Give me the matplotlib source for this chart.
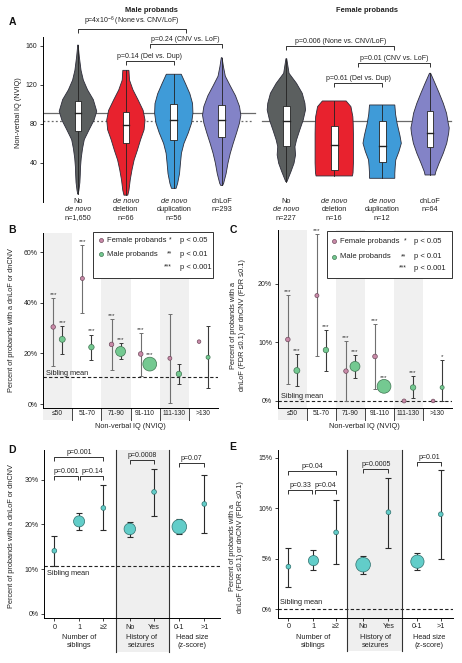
import numpy as np
import matplotlib
matplotlib.use("Agg")
import matplotlib.pyplot as plt
import matplotlib.transforms as mtrans
from matplotlib.patches import Rectangle

plt.rcParams['font.family'] = ['Liberation Sans', 'DejaVu Sans']
plt.rcParams['mathtext.default'] = 'regular'
plt.rcParams['axes.linewidth'] = 0.7
plt.rcParams['xtick.major.width'] = 0.6
plt.rcParams['ytick.major.width'] = 0.6

# ======================= DATA =======================
# ---- Panel A: NVIQ distributions ----
a_lines = [["No", "de novo"], ["de novo", "deletion"], ["de novo", "duplication"], ["dnLoF"]]
a_italic = [[False, True], [True, False], [True, False], [False]]
a_male_n = ["n=1,650", "n=66", "n=56", "n=293"]
a_female_n = ["n=227", "n=16", "n=12", "n=64"]
male_mean_nviq = 91.0
female_mean_nviq = 83.5

# violin profiles: NVIQ levels and relative density
m_nodn_lv = [8, 12, 20, 28, 35, 45, 55, 64, 74, 84, 93, 105, 115, 125, 135, 149, 161]
m_nodn_d = [0.01, 0.05, 0.1, 0.12, 0.13, 0.17, 0.24, 0.33, 0.58, 0.84, 0.98, 0.8, 0.5, 0.28, 0.16, 0.07, 0.01]
m_del_lv = [7, 12, 23, 33, 43, 53, 64, 74, 84, 94, 105, 115, 125, 135]
m_del_d = [0.1, 0.16, 0.23, 0.32, 0.43, 0.6, 0.77, 0.95, 1.0, 0.9, 0.63, 0.37, 0.19, 0.16]
m_dup_lv = [14, 19, 29, 40, 50, 60, 71, 81, 91, 101, 111, 121, 131]
m_dup_d = [0.12, 0.2, 0.3, 0.35, 0.4, 0.53, 0.76, 0.93, 1.0, 0.98, 0.84, 0.62, 0.39]
m_lof_lv = [17, 19, 29, 40, 50, 60, 71, 81, 89, 98, 109, 119, 129, 139, 148]
m_lof_d = [0.05, 0.1, 0.23, 0.33, 0.45, 0.6, 0.78, 0.93, 1.0, 0.93, 0.72, 0.45, 0.19, 0.09, 0.02]

f_nodn_lv = [20.8, 31.1, 39.7, 48.2, 56.7, 63.6, 73.8, 84.1, 94.4, 101.2, 111.5, 121.7, 132, 147]
f_nodn_d = [0.03, 0.24, 0.4, 0.48, 0.45, 0.53, 0.7, 0.88, 1.0, 0.97, 0.83, 0.53, 0.14, 0.02]
f_del_lv = [26.7, 30, 40, 50, 60, 70, 80, 87.5, 97.8, 103.6]
f_del_d = [0.95, 0.98, 1.0, 1.0, 1.0, 1.0, 0.99, 0.97, 0.87, 0.62]
f_dup_lv = [24.3, 29.4, 36, 43.1, 52, 60.2, 68, 80.7, 90, 99.5]
f_dup_d = [0.66, 0.66, 0.68, 0.71, 0.88, 1.0, 0.93, 0.78, 0.7, 0.66]
f_lof_lv = [27.7, 31.1, 39.7, 50, 60.2, 70.4, 76, 80.7, 91, 101.2, 111.5, 121.7, 132]
f_lof_d = [0.26, 0.3, 0.47, 0.69, 0.87, 0.97, 1.0, 0.95, 0.86, 0.69, 0.48, 0.26, 0.03]

male_q1 = [73, 60, 64, 67]
male_med = [91, 79, 84, 84]
male_q3 = [104, 92, 101, 99]
female_q1 = [57.8, 32.8, 41.4, 56]
female_med = [83.4, 58.5, 57.4, 71]
female_q3 = [98.8, 78, 83.4, 93.3]

a_male_tests = ["p=4x10$^{-6}$ (None vs. CNV/LoF)", "p=0.24 (CNV vs. LoF)", "p=0.14 (Del vs. Dup)"]
a_female_tests = ["p=0.006 (None vs. CNV/LoF)", "p=0.01 (CNV vs. LoF)", "p=0.61 (Del vs. Dup)"]

# ---- Panels B & C: rate by NVIQ bin ----
nviq_bins = ["\u226450", "51-70", "71-90", "91-110", "111-130", ">130"]
nan = np.nan
b_female = [30.5, 49.7, 23.6, 19.8, 18.1, 24.7]
b_female_lo = [15.2, 35.9, 13.6, 11.1, 0.3, nan]
b_female_hi = [41.9, 62.9, 33.5, 28.0, 35.6, nan]
b_male = [25.6, 22.5, 20.8, 15.8, 11.9, 18.5]
b_male_lo = [19.9, 17.4, 17.9, 13.8, 7.8, 6.2]
b_male_hi = [30.9, 27.5, 24.2, 18.0, 15.7, 30.9]
b_female_sig = ["***", "***", "***", "***", "", ""]
b_male_sig = ["***", "***", "***", "***", "", ""]
b_sibling_mean = 10.6

c_female = [10.5, 18.0, 5.1, 7.6, 0.0, 0.0]
c_female_lo = [2.9, 7.6, 0.0, 2.1, nan, nan]
c_female_hi = [18.1, 28.5, 10.2, 13.1, nan, nan]
c_male = [5.2, 8.7, 5.9, 2.5, 2.3, 2.3]
c_male_lo = [2.5, 5.2, 3.9, 1.6, 0.5, 0.0]
c_male_hi = [8.0, 12.1, 7.8, 3.3, 4.2, 7.0]
c_female_sig = ["***", "***", "***", "***", "", ""]
c_male_sig = ["***", "***", "***", "***", "***", "*"]
c_sibling_mean = 0.0

bin_n_female = [110, 60, 110, 120, 55, 20]
bin_n_male = [250, 200, 640, 1020, 200, 65]

# ---- Panels D & E: rate by sibling count / seizures / head size ----
de_cats = ["0", "1", "\u22652", "No", "Yes", "0-1", ">1"]
de_groups = ["Number of\nsiblings", "History of\nseizures", "Head size\n(z-score)"]
d_rate = [14.1, 20.7, 23.7, 19.0, 27.3, 19.5, 24.6]
d_lo = [10.7, 18.8, 18.7, 17.2, 21.9, 17.8, 18.0]
d_hi = [17.4, 22.6, 28.8, 20.6, 32.5, 21.3, 31.2]
d_n = [250, 1700, 250, 1800, 250, 2500, 250]
d_sibling_mean = 10.6
e_rate = [4.2, 4.8, 7.6, 4.4, 9.6, 4.7, 9.4]
e_lo = [2.2, 3.85, 4.5, 3.5, 6.1, 3.85, 5.0]
e_hi = [6.1, 5.9, 10.8, 5.3, 13.0, 5.6, 13.8]
e_n = [250, 1500, 250, 2500, 250, 2200, 250]
e_sibling_mean = 0.0
d_tests = ["p=0.001", "p=0.001", "p=0.14", "p=0.0008", "p=0.07"]
e_tests = ["p=0.04", "p=0.33", "p=0.04", "p=0.0005", "p=0.01"]

# ======================= LAYOUT / STYLE =======================
W, H = 462, 663
fig = plt.figure(figsize=(W / 100, H / 100), dpi=100)

def px_axes(l, t, r, b):
    return fig.add_axes([l / W, 1 - b / H, (r - l) / W, (b - t) / H])

TXT = '#222222'
LFS = 5.3   # label font size
TFS = 5.0   # tick font size
vcolors = ["#5b5f5f", "#e8222e", "#3f9bd8", "#8383c7"]

def bracket(ax, x1, x2, y, drop, label, fs=5.0, off=0.8):
    ax.plot([x1, x1, x2, x2], [y - drop, y, y, y - drop], color='#333333', lw=0.7,
            clip_on=False, solid_capstyle='butt')
    ax.annotate(label, xy=((x1 + x2) / 2, y), xytext=(0, off), textcoords='offset points',
                ha='center', va='bottom', fontsize=fs, color=TXT, annotation_clip=False)

# ---------------- Panel A ----------------
axA = px_axes(43, 37, 460, 202)
axA.set_xlim(0.27, 8.975)
axA.set_ylim(0, 169.2)
for s in ['top', 'right', 'bottom']:
    axA.spines[s].set_visible(False)
axA.set_xticks([])
axA.set_yticks([40, 80, 120, 160])
axA.tick_params(axis='y', length=2.5, labelsize=TFS, pad=1.5, colors=TXT)
axA.set_ylabel("Non-verbal IQ (NVIQ)", fontsize=LFS, color=TXT)
axA.yaxis.set_label_coords(-0.051, 0.54)

male_x = [1, 2, 3, 4]
female_x = [5.35, 6.35, 7.35, 8.35]
axA.plot([0.27, 4.69], [male_mean_nviq] * 2, color='#6a6a6a', lw=0.9, zorder=1)
axA.plot([0.27, 4.63], [female_mean_nviq] * 2, color='#6a6a6a', lw=0.9, ls=(0, (1.5, 1.8)), zorder=1)
axA.plot([4.85, 8.79], [female_mean_nviq] * 2, color='#6a6a6a', lw=0.9, zorder=1)

male_prof = [(m_nodn_lv, m_nodn_d), (m_del_lv, m_del_d), (m_dup_lv, m_dup_d), (m_lof_lv, m_lof_d)]
female_prof = [(f_nodn_lv, f_nodn_d), (f_del_lv, f_del_d), (f_dup_lv, f_dup_d), (f_lof_lv, f_lof_d)]
HW = 0.40
BW = 0.07

def violin(ax, x, lv, d, q1, med, q3, color):
    lv = np.asarray(lv, float)
    hw = np.asarray(d, float) * HW
    xs = np.concatenate([x - hw, (x + hw)[::-1]])
    ys = np.concatenate([lv, lv[::-1]])
    ax.fill(xs, ys, facecolor=color, edgecolor='#2d2d3a', lw=0.6, zorder=2)
    ax.plot([x, x], [lv.min(), lv.max()], color='#222222', lw=0.6, zorder=3)
    ax.add_patch(Rectangle((x - BW, q1), 2 * BW, q3 - q1, facecolor='white',
                           edgecolor='#222222', lw=0.6, zorder=4))
    ax.plot([x - BW, x + BW], [med, med], color='#222222', lw=1.0, zorder=5)

for i in range(4):
    violin(axA, male_x[i], *male_prof[i], male_q1[i], male_med[i], male_q3[i], vcolors[i])
    violin(axA, female_x[i], *female_prof[i], female_q1[i], female_med[i], female_q3[i], vcolors[i])

tA = mtrans.blended_transform_factory(axA.transData, axA.transAxes)
rows = [0.006, -0.044, -0.097]
for xs, nlab in ((male_x, a_male_n), (female_x, a_female_n)):
    for i in range(4):
        lines = a_lines[i] + [nlab[i]]
        ital = a_italic[i] + [False]
        for j, (ln, it) in enumerate(zip(lines, ital)):
            axA.text(xs[i], rows[j], ln, transform=tA, ha='center', va='center',
                     fontsize=LFS, style='italic' if it else 'normal', color=TXT, clip_on=False)

# brackets (male)
bracket(axA, 1, 3.25, 177.4, 4.1, a_male_tests[0])
bracket(axA, 2.5, 4, 162.0, 4.1, a_male_tests[1])
bracket(axA, 2, 3, 144.6, 4.1, a_male_tests[2])
# brackets (female)
bracket(axA, 5.35, 7.6, 160.0, 4.1, a_female_tests[0])
bracket(axA, 6.85, 8.35, 142.6, 4.1, a_female_tests[1])
bracket(axA, 6.35, 7.35, 122.0, 4.1, a_female_tests[2])

fig.text(151 / W, 1 - 11 / H, "Male probands", ha='center', va='center', fontsize=5.4,
         fontweight='bold', color=TXT)
fig.text(367 / W, 1 - 11 / H, "Female probands", ha='center', va='center', fontsize=5.4,
         fontweight='bold', color=TXT)

# ---------------- Panels B & C ----------------
FEM_FC, FEM_EC = '#c98aa8', '#6e4a5c'
MAL_FC, MAL_EC = '#74c991', '#3f7451'

def radius_px(n, nmax, base=1.7, span=5.2):
    return base + span * (np.asarray(n, float) / nmax)

def s_from_r(r):
    return (2 * r * 0.72) ** 2

def panel_bc(ax, fem, flo, fhi, mal, mlo, mhi, fsig, msig, sib, ylim, yticks, ylabel, ylab_xy,
             legend_box, leg_rows, leg_x, sib_xy):
    ax.set_xlim(0, 6)
    ax.set_ylim(*ylim)
    for s in ['top', 'right']:
        ax.spines[s].set_visible(False)
    ax.set_xticks([])
    ax.set_yticks(yticks)
    ax.set_yticklabels([f"{t}%" for t in yticks])
    ax.tick_params(axis='y', length=2.5, labelsize=TFS, pad=1.5, colors=TXT)
    ax.set_ylabel(ylabel, fontsize=LFS, color=TXT, linespacing=1.3)
    ax.yaxis.set_label_coords(*ylab_xy)
    tr = mtrans.blended_transform_factory(ax.transData, ax.transAxes)
    for i in (0, 2, 4):
        ax.add_patch(Rectangle((i, -0.068), 1, 1.068, transform=tr, facecolor='#f0f0f0',
                               edgecolor='none', zorder=0, clip_on=False))
    for i in range(1, 6):
        ax.plot([i, i], [0, -0.068], transform=tr, color='#444444', lw=0.7, clip_on=False)
    for i, lab in enumerate(nviq_bins):
        ax.text(i + 0.5, -0.034, lab, transform=tr, ha='center', va='center', fontsize=4.8,
                color=TXT, clip_on=False)
    ax.text(0.5, -0.105, "Non-verbal IQ (NVIQ)", transform=ax.transAxes, ha='center',
            va='center', fontsize=LFS, color=TXT)
    ax.axhline(sib, color='#222222', lw=0.8, ls=(0, (3, 2)), zorder=1)
    ax.annotate("Sibling mean", xy=sib_xy, xycoords=tr if False else ax.transAxes,
                ha='left', va='bottom', fontsize=LFS, color=TXT)
    xs = np.arange(6) + 0.5
    fx, mx = xs - 0.15, xs + 0.16
    for xarr, v, lo, hi, sig, n, fc, ec, lc in (
            (fx, fem, flo, fhi, fsig, bin_n_female, FEM_FC, FEM_EC, '#707070'),
            (mx, mal, mlo, mhi, msig, bin_n_male, MAL_FC, MAL_EC, '#3a3a3a')):
        v = np.asarray(v, float); lo = np.asarray(lo, float); hi = np.asarray(hi, float)
        ok = ~np.isnan(lo)
        ax.errorbar(xarr[ok], v[ok], yerr=[v[ok] - lo[ok], hi[ok] - v[ok]], fmt='none',
                    ecolor=lc, elinewidth=0.8, capsize=1.5, capthick=0.7, zorder=3, clip_on=False)
        r = radius_px(n, max(bin_n_male))
        ax.scatter(xarr, v, s=s_from_r(r), facecolor=fc, edgecolor=ec, lw=0.5, zorder=4,
                   clip_on=False)
        for k in range(6):
            if sig[k]:
                ax.annotate(sig[k], xy=(xarr[k], hi[k]), xytext=(0, 0.8), textcoords='offset points',
                            ha='center', va='bottom', fontsize=4.6, color='#333333',
                            annotation_clip=False)
    # legend
    x0, x1, y0, y1 = legend_box
    ax.add_patch(Rectangle((x0, y0), x1 - x0, y1 - y0, transform=ax.transAxes, facecolor='white',
                           edgecolor='#333333', lw=0.7, zorder=10, clip_on=False))
    mk_x, txt_x, star_x, p_x = leg_x
    ax.scatter([mk_x], [leg_rows[0]], s=s_from_r(2.0), facecolor=FEM_FC, edgecolor=FEM_EC, lw=0.5,
               transform=ax.transAxes, zorder=11, clip_on=False)
    ax.scatter([mk_x], [leg_rows[1]], s=s_from_r(2.0), facecolor=MAL_FC, edgecolor=MAL_EC, lw=0.5,
               transform=ax.transAxes, zorder=11, clip_on=False)
    ax.text(txt_x, leg_rows[0], "Female probands", transform=ax.transAxes, ha='left', va='center',
            fontsize=5.5, color=TXT, zorder=11)
    ax.text(txt_x, leg_rows[1], "Male probands", transform=ax.transAxes, ha='left', va='center',
            fontsize=5.5, color=TXT, zorder=11)
    for row, st, pl in zip(leg_rows, ["*", "**", "***"], ["p < 0.05", "p < 0.01", "p < 0.001"]):
        ax.text(star_x, row, st, transform=ax.transAxes, ha='right', va='center', fontsize=4.8,
                color=TXT, zorder=11)
        ax.text(p_x, row, pl, transform=ax.transAxes, ha='left', va='center', fontsize=5.5,
                color=TXT, zorder=11)

axB = px_axes(43, 233, 218, 408)
panel_bc(axB, b_female, b_female_lo, b_female_hi, b_male, b_male_lo, b_male_hi,
         b_female_sig, b_male_sig, b_sibling_mean, (-1.58, 67.7), [0, 20, 40, 60],
         "Percent of probands with a dnLoF or dnCNV", (-0.16, 0.5),
         (0.286, 0.971, 0.743, 1.005), [0.96, 0.878, 0.804], (0.33, 0.364, 0.737, 0.783),
         (0.02, 0.175))

axC = px_axes(277.7, 230, 452, 407.7)
panel_bc(axC, c_female, c_female_lo, c_female_hi, c_male, c_male_lo, c_male_hi,
         c_female_sig, c_male_sig, c_sibling_mean, (-1.15, 29.2), [0, 10, 20],
         "Percent of probands with a\ndnLoF (FDR \u22640.1) or dnCNV (FDR \u22640.1)", (-0.183, 0.465),
         (0.281, 1.0, 0.728, 0.994), [0.938, 0.85, 0.784], (0.325, 0.357, 0.738, 0.782),
         (0.02, 0.045))

# ---------------- Panels D & E ----------------
TEAL_FC, TEAL_EC = '#62cdc9', '#2f6f6c'

def panel_de(ax, pos, seps, xlim, rate, lo, hi, n, sib, ylim, yticks, ylabel, ylab_xy,
             sib_off, tests, br):
    ax.set_xlim(*xlim)
    ax.set_ylim(*ylim)
    for s in ['top', 'right']:
        ax.spines[s].set_visible(False)
    ax.set_xticks(pos)
    ax.set_xticklabels(de_cats)
    ax.tick_params(axis='x', length=2, labelsize=5.2, pad=2, colors=TXT)
    ax.set_yticks(yticks)
    ax.set_yticklabels([f"{t}%" for t in yticks])
    ax.tick_params(axis='y', length=2.5, labelsize=TFS, pad=1.5, colors=TXT)
    ax.set_ylabel(ylabel, fontsize=LFS, color=TXT, linespacing=1.3)
    ax.yaxis.set_label_coords(*ylab_xy)
    tr = mtrans.blended_transform_factory(ax.transData, ax.transAxes)
    ax.add_patch(Rectangle((seps[0], -0.2), seps[1] - seps[0], 1.2, transform=tr,
                           facecolor='#efefef', edgecolor='none', zorder=0, clip_on=False))
    for sx in seps:
        ax.plot([sx, sx], [-0.2, 1.0], transform=tr, color='#333333', lw=0.8, clip_on=False, zorder=2)
    centers = [pos[1], (pos[3] + pos[4]) / 2, (pos[5] + pos[6]) / 2]
    for cx, g in zip(centers, de_groups):
        ax.text(cx, -0.14, g, transform=tr, ha='center', va='center', fontsize=LFS,
                color=TXT, linespacing=1.25, clip_on=False)
    ax.axhline(sib, color='#222222', lw=0.8, ls=(0, (3, 2)), zorder=1)
    ax.annotate("Sibling mean", xy=(0.015, sib), xycoords=mtrans.blended_transform_factory(
        ax.transAxes, ax.transData), xytext=(0, sib_off), textcoords='offset points',
        ha='left', va='center', fontsize=LFS, color=TXT)
    rate = np.asarray(rate, float); lo = np.asarray(lo, float); hi = np.asarray(hi, float)
    ax.errorbar(pos, rate, yerr=[rate - lo, hi - rate], fmt='none', ecolor='#2a2a2a',
                elinewidth=0.8, capsize=2.0, capthick=0.8, zorder=3)
    r = radius_px(n, max(n), base=1.8, span=5.5)
    ax.scatter(pos, rate, s=s_from_r(r), facecolor=TEAL_FC, edgecolor=TEAL_EC, lw=0.5, zorder=4)
    for (i1, i2, y, drop, d1, d2), t in zip(br, tests):
        bracket(ax, pos[i1] + d1, pos[i2] + d2, y, drop, t)

d_pos = [0, 1.01, 2.0, 3.08, 4.07, 5.10, 6.12]
axD = px_axes(44.3, 450, 220, 618)
panel_de(axD, d_pos, [2.52, 4.67], (-0.41, 6.76), d_rate, d_lo, d_hi, d_n, d_sibling_mean,
         (-0.96, 36.7), [0, 10, 20, 30], "Percent of probands with a dnLoF or dnCNV",
         (-0.167, 0.49), -5.0, d_tests,
         [(0, 2, 35.1, 0.9, 0, 0), (0, 1, 30.8, 0.9, 0, -0.05), (1, 2, 30.8, 0.9, 0.05, 0),
          (3, 4, 34.4, 0.9, 0, 0), (5, 6, 33.7, 0.9, 0, 0)])

e_pos = [0, 1.03, 1.96, 3.07, 4.11, 5.30, 6.26]
axE = px_axes(277.7, 450, 452.7, 617.7)
panel_de(axE, e_pos, [2.42, 4.68], (-0.44, 6.75), e_rate, e_lo, e_hi, e_n, e_sibling_mean,
         (-0.86, 15.77), [0, 5, 10, 15],
         "Percent of probands with a\ndnLoF (FDR \u22640.1) or dnCNV (FDR \u22640.1)",
         (-0.191, 0.42), 4.5, e_tests,
         [(0, 2, 13.65, 0.4, 0, 0), (0, 1, 11.8, 0.4, 0, -0.08), (1, 2, 11.8, 0.4, 0.05, 0),
          (3, 4, 13.9, 0.4, 0, 0), (5, 6, 14.6, 0.4, 0, 0)])

# ---------------- Panel letters ----------------
for lab, (x, y) in {"A": (12, 22), "B": (12, 230), "C": (233, 230), "D": (12, 450),
                    "E": (233, 447)}.items():
    fig.text(x / W, 1 - y / H, lab, ha='center', va='center', fontsize=7.5, fontweight='bold',
             color='#111111')

fig.savefig("out.png", dpi=100)
